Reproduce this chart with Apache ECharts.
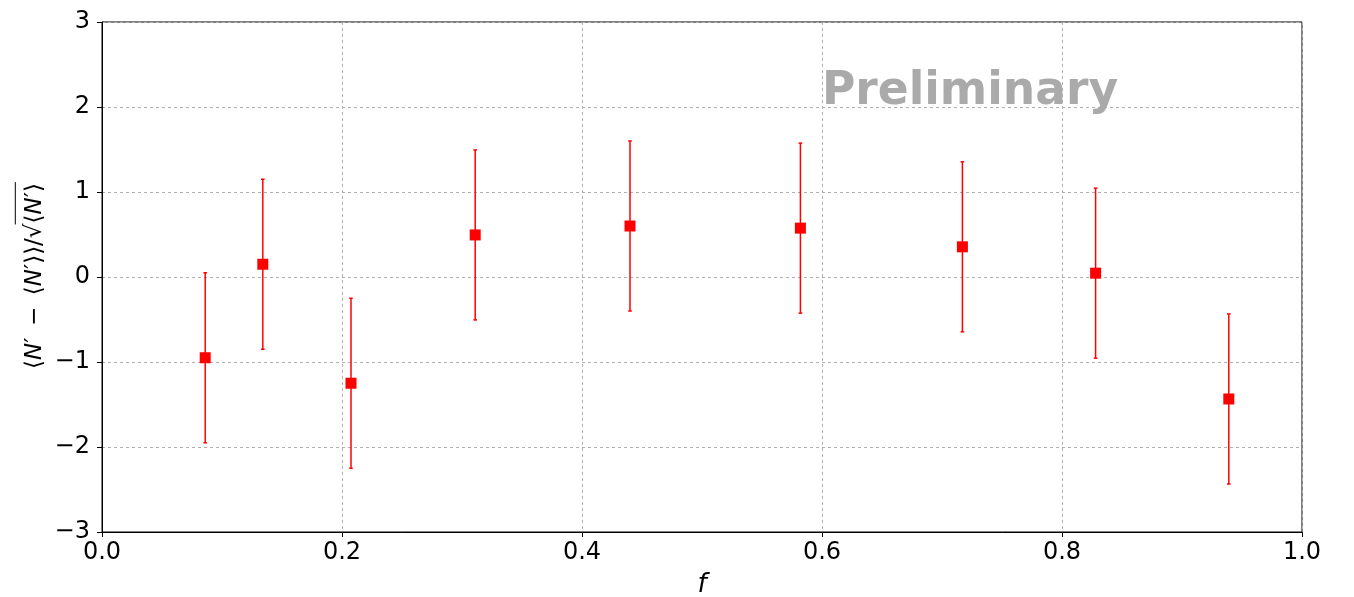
<!DOCTYPE html>
<html><head><meta charset="utf-8">
<script src="https://cdn.jsdelivr.net/npm/echarts@6/dist/echarts.min.js"></script>
<style>html,body{margin:0;padding:0;background:#fff;overflow:hidden}#c{width:1354px;height:597px}</style>
</head><body><div id="c"></div>
<script>
const fValues = [0.086, 0.134, 0.2075, 0.311, 0.44, 0.582, 0.717, 0.828, 0.939];
const yValues = [-0.95, 0.15, -1.25, 0.495, 0.60, 0.575, 0.355, 0.045, -1.435];
const yErrors = [1, 1, 1, 1, 1, 1, 1, 1, 1];
const xTicks = [0, 0.2, 0.4, 0.6, 0.8, 1.0];
const yTicks = [-3, -2, -1, 0, 1, 2, 3];
const watermark = 'Preliminary';

const chart = echarts.init(document.getElementById('c'));
const pts = fValues.map((f, i) => [f, yValues[i]]);
const errs = fValues.map((f, i) => [f, yValues[i] - yErrors[i], yValues[i] + yErrors[i]]);
const FONT = 'DejaVu Sans';
const fmtNum = (v, d) => v.toFixed(d).replace('-', '\u2212');

chart.setOption({
  animation: false,
  grid: { left: 102, right: 52, top: 22, bottom: 65, show: true, borderColor: '#000', borderWidth: 1, outerBoundsMode: 'none', containLabel: false },
  xAxis: {
    type: 'value', min: 0, max: 1, interval: 0.2,
    name: 'f', nameLocation: 'middle', nameGap: 40,
    nameTextStyle: { fontFamily: FONT, fontSize: 26, fontStyle: 'italic', color: '#000' },
    axisLine: { show: true, onZero: false, lineStyle: { color: '#000', width: 1 } },
    axisTick: { show: true, inside: false, length: 5, lineStyle: { color: '#000' } },
    axisLabel: { fontFamily: FONT, fontSize: 24, color: '#000', margin: 9, formatter: v => fmtNum(v, 1) },
    splitLine: { show: true, lineStyle: { color: '#b0b0b0', type: [3, 3], width: 1 } }
  },
  yAxis: {
    type: 'value', min: -3, max: 3, interval: 1,
    axisLine: { show: true, onZero: false, lineStyle: { color: '#000', width: 1 } },
    axisTick: { show: true, inside: false, length: 5, lineStyle: { color: '#000' } },
    axisLabel: { fontFamily: FONT, fontSize: 24, color: '#000', margin: 12, formatter: v => fmtNum(v, 0) },
    splitLine: { show: true, lineStyle: { color: '#b0b0b0', type: [3, 3], width: 1 } }
  },
  series: [
    {
      type: 'custom',
      data: errs,
      encode: { x: 0, y: [1, 2] },
      renderItem: function (params, api) {
        const x = api.value(0);
        const lo = api.coord([x, api.value(1)]);
        const hi = api.coord([x, api.value(2)]);
        const cw = 1.8;
        const st = { stroke: '#ff0000', lineWidth: 1.5 };
        return {
          type: 'group', children: [
            { type: 'line', shape: { x1: lo[0], y1: lo[1], x2: hi[0], y2: hi[1] }, style: st },
            { type: 'line', shape: { x1: lo[0] - cw, y1: lo[1], x2: lo[0] + cw, y2: lo[1] }, style: st },
            { type: 'line', shape: { x1: hi[0] - cw, y1: hi[1], x2: hi[0] + cw, y2: hi[1] }, style: st }
          ]
        };
      },
      z: 2
    },
    {
      type: 'scatter', data: pts, symbol: 'rect', symbolSize: 11,
      itemStyle: { color: '#ff0000', opacity: 1 }, z: 3
    }
  ]
});

// y-axis label with radical overline
const FS = 23;
const ctx = document.createElement('canvas').getContext('2d');
const segs = [
  ['n', '\u27E8'], ['i', 'N'], ['n', '\u2032\u2002\u2212\u2002\u27E8'], ['i', 'N'], ['n', '\u2032\u27E9\u27E9/\u221A'],
  ['n', '\u27E8'], ['i', 'N'], ['n', '\u2032\u27E9']
];
let W = 0, wRad = 0;
segs.forEach((s, k) => {
  ctx.font = (s[0] === 'i' ? 'italic ' : '') + FS + 'px "DejaVu Sans"';
  const w = ctx.measureText(s[1]).width;
  if (k === 5) wRad = W;
  W += w;
});
const richText = segs.map(s => '{' + s[0] + '|' + s[1] + '}').join('');

const wp = chart.convertToPixel({ gridIndex: 0 }, [0.6, 2.0]);
chart.setOption({
  graphic: [
    {
      type: 'text', x: wp[0], y: wp[1] + 8,
      style: { text: watermark, fontFamily: FONT, fontWeight: 'bold', fontSize: 45.5, fill: '#aaaaaa', align: 'left', verticalAlign: 'bottom' },
      z: 1
    },
    {
      type: 'group', x: 35, y: 276, rotation: Math.PI / 2,
      children: [
        {
          type: 'text', x: -W / 2, y: 0,
          style: {
            text: richText, align: 'left', verticalAlign: 'middle',
            rich: {
              n: { fontFamily: FONT, fontSize: FS, fill: '#000', color: '#000' },
              i: { fontFamily: FONT, fontSize: FS, fontStyle: 'italic', fill: '#000', color: '#000' }
            }
          }
        },
        {
          type: 'line',
          shape: { x1: -W / 2 + wRad - 1, y1: -FS * 0.9 + 1, x2: W / 2 + 1, y2: -FS * 0.9 + 1 },
          style: { stroke: '#000', lineWidth: 1 }
        }
      ]
    }
  ]
});
</script></body></html>
